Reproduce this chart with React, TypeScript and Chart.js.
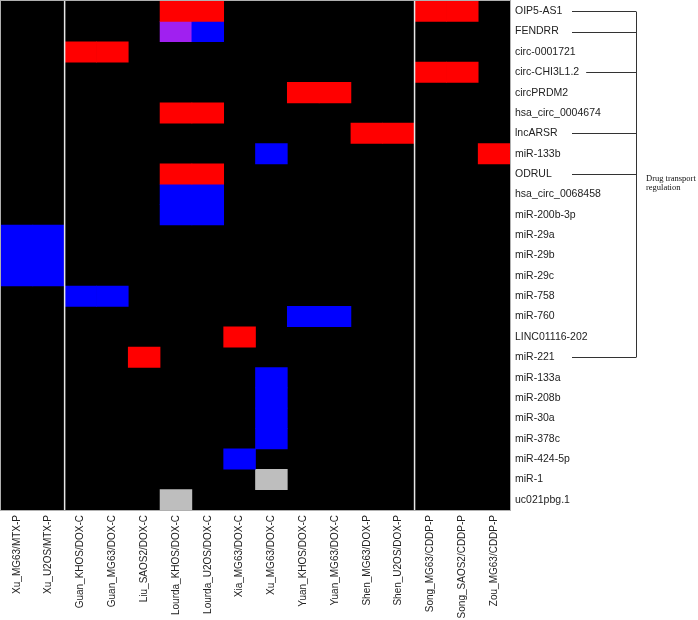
import React, { useEffect, useRef } from "react";
import { Chart, registerables } from "chart.js";

Chart.register(...registerables);

// Rows (transcripts), top to bottom
const rowLabels = [
  "OIP5-AS1", "FENDRR", "circ-0001721", "circ-CHI3L1.2", "circPRDM2",
  "hsa_circ_0004674", "lncARSR", "miR-133b", "ODRUL", "hsa_circ_0068458",
  "miR-200b-3p", "miR-29a", "miR-29b", "miR-29c", "miR-758", "miR-760",
  "LINC01116-202", "miR-221", "miR-133a", "miR-208b", "miR-30a", "miR-378c",
  "miR-424-5p", "miR-1", "uc021pbg.1",
];

// Columns (study_cell/drug), left to right
const colLabels = [
  "Xu_MG63/MTX-P", "Xu_U2OS/MTX-P", "Guan_KHOS/DOX-C", "Guan_MG63/DOX-C",
  "Liu_SAOS2/DOX-C", "Lourda_KHOS/DOX-C", "Lourda_U2OS/DOX-C", "Xia_MG63/DOX-C",
  "Xu_MG63/DOX-C", "Yuan_KHOS/DOX-C", "Yuan_MG63/DOX-C", "Shen_MG63/DOX-P",
  "Shen_U2OS/DOX-P", "Song_MG63/CDDP-P", "Song_SAOS2/CDDP-P", "Zou_MG63/CDDP-P",
];

// Cell states: 0 none, 1 up (red), 2 down (blue), 3 both (purple), 4 other (gray)
const cellStates: number[][] = [
  [0, 0, 0, 0, 0, 1, 1, 0, 0, 0, 0, 0, 0, 1, 1, 0],
  [0, 0, 0, 0, 0, 3, 2, 0, 0, 0, 0, 0, 0, 0, 0, 0],
  [0, 0, 1, 1, 0, 0, 0, 0, 0, 0, 0, 0, 0, 0, 0, 0],
  [0, 0, 0, 0, 0, 0, 0, 0, 0, 0, 0, 0, 0, 1, 1, 0],
  [0, 0, 0, 0, 0, 0, 0, 0, 0, 1, 1, 0, 0, 0, 0, 0],
  [0, 0, 0, 0, 0, 1, 1, 0, 0, 0, 0, 0, 0, 0, 0, 0],
  [0, 0, 0, 0, 0, 0, 0, 0, 0, 0, 0, 1, 1, 0, 0, 0],
  [0, 0, 0, 0, 0, 0, 0, 0, 2, 0, 0, 0, 0, 0, 0, 1],
  [0, 0, 0, 0, 0, 1, 1, 0, 0, 0, 0, 0, 0, 0, 0, 0],
  [0, 0, 0, 0, 0, 2, 2, 0, 0, 0, 0, 0, 0, 0, 0, 0],
  [0, 0, 0, 0, 0, 2, 2, 0, 0, 0, 0, 0, 0, 0, 0, 0],
  [2, 2, 0, 0, 0, 0, 0, 0, 0, 0, 0, 0, 0, 0, 0, 0],
  [2, 2, 0, 0, 0, 0, 0, 0, 0, 0, 0, 0, 0, 0, 0, 0],
  [2, 2, 0, 0, 0, 0, 0, 0, 0, 0, 0, 0, 0, 0, 0, 0],
  [0, 0, 2, 2, 0, 0, 0, 0, 0, 0, 0, 0, 0, 0, 0, 0],
  [0, 0, 0, 0, 0, 0, 0, 0, 0, 2, 2, 0, 0, 0, 0, 0],
  [0, 0, 0, 0, 0, 0, 0, 1, 0, 0, 0, 0, 0, 0, 0, 0],
  [0, 0, 0, 0, 1, 0, 0, 0, 0, 0, 0, 0, 0, 0, 0, 0],
  [0, 0, 0, 0, 0, 0, 0, 0, 2, 0, 0, 0, 0, 0, 0, 0],
  [0, 0, 0, 0, 0, 0, 0, 0, 2, 0, 0, 0, 0, 0, 0, 0],
  [0, 0, 0, 0, 0, 0, 0, 0, 2, 0, 0, 0, 0, 0, 0, 0],
  [0, 0, 0, 0, 0, 0, 0, 0, 2, 0, 0, 0, 0, 0, 0, 0],
  [0, 0, 0, 0, 0, 0, 0, 2, 0, 0, 0, 0, 0, 0, 0, 0],
  [0, 0, 0, 0, 0, 0, 0, 0, 4, 0, 0, 0, 0, 0, 0, 0],
  [0, 0, 0, 0, 0, 4, 0, 0, 0, 0, 0, 0, 0, 0, 0, 0],
];

const stateNames = ["", "Up", "Down", "Both", "Other"];
const stateColors = ["#000000", "#FF0000", "#0000FF", "#A020F0", "#BEBEBE"];

// Column indices where a new group begins (white separators)
const groupStarts = [2, 13];

// Rows linked to the "Drug transport regulation" bracket
const bracketRows = ["OIP5-AS1", "FENDRR", "circ-CHI3L1.2", "lncARSR", "ODRUL", "miR-221"];
const bracketText = ["Drug transport", "regulation"];

const FONT_FAMILY = "'Liberation Sans', Arial, sans-serif";
const ROW_FONT_SIZE = 10.5;
const LABEL_FONT = `${ROW_FONT_SIZE}px 'Liberation Sans', Arial, sans-serif`;

export default function App() {
  const canvasRef = useRef<HTMLCanvasElement | null>(null);

  useEffect(() => {
    const canvas = canvasRef.current;
    if (!canvas) return;

    const datasets = [1, 2, 3, 4].map((state) => {
      const data: { x: string; y: [number, number] }[] = [];
      cellStates.forEach((row, r) =>
        row.forEach((v, c) => {
          if (v === state) data.push({ x: colLabels[c], y: [r, r + 1] });
        })
      );
      return {
        label: stateNames[state],
        data,
        backgroundColor: stateColors[state],
        borderWidth: 0,
        barPercentage: 1,
        categoryPercentage: 1,
        grouped: false,
      };
    });

    const backgroundPlugin = {
      id: "heatBg",
      beforeDatasetsDraw(chart: any) {
        const { ctx, chartArea } = chart;
        ctx.save();
        ctx.fillStyle = "#000000";
        ctx.fillRect(chartArea.left, chartArea.top, chartArea.right - chartArea.left, chartArea.bottom - chartArea.top);
        ctx.restore();
      },
      afterDatasetsDraw(chart: any) {
        const { ctx, chartArea } = chart;
        const xs = chart.scales.x;
        ctx.save();
        ctx.strokeStyle = "#e6e6e6";
        ctx.lineWidth = 1.5;
        groupStarts.forEach((i) => {
          const px = (xs.getPixelForValue(i - 1) + xs.getPixelForValue(i)) / 2;
          ctx.beginPath();
          ctx.moveTo(px, chartArea.top);
          ctx.lineTo(px, chartArea.bottom);
          ctx.stroke();
        });
        ctx.strokeStyle = "#b0b0b0";
        ctx.lineWidth = 1;
        ctx.strokeRect(chartArea.left - 0.5, chartArea.top - 0.5, chartArea.right - chartArea.left + 1, chartArea.bottom - chartArea.top + 1);
        ctx.restore();
      },
    };

    const bracketPlugin = {
      id: "bracket",
      afterDraw(chart: any) {
        const { ctx, chartArea } = chart;
        const ys = chart.scales.y;
        const labelX = chartArea.right + 5;
        const baseStart = chartArea.right + 62;
        const vertX = chartArea.right + 126;
        ctx.save();
        ctx.font = LABEL_FONT;
        ctx.strokeStyle = "#333333";
        ctx.lineWidth = 1;
        const yPix: number[] = [];
        bracketRows.forEach((name) => {
          const r = rowLabels.indexOf(name);
          const y = Math.round(ys.getPixelForValue(r + 0.5)) + 0.5;
          yPix.push(y);
          const w = ctx.measureText(name).width;
          const start = Math.max(baseStart, labelX + w + 7);
          ctx.beginPath();
          ctx.moveTo(start, y);
          ctx.lineTo(vertX, y);
          ctx.stroke();
        });
        const top = Math.min(...yPix);
        const bottom = Math.max(...yPix);
        ctx.beginPath();
        ctx.moveTo(Math.round(vertX) + 0.5, top);
        ctx.lineTo(Math.round(vertX) + 0.5, bottom);
        ctx.stroke();
        const mid = ys.getPixelForValue(9);
        ctx.font = "8.5px 'Liberation Serif', 'Times New Roman', serif";
        ctx.fillStyle = "#111111";
        ctx.textBaseline = "middle";
        ctx.textAlign = "left";
        bracketText.forEach((t, i) => {
          ctx.fillText(t, vertX + 10, mid - 5 + i * 9);
        });
        ctx.restore();
      },
    };

    const chart = new Chart(canvas, {
      type: "bar",
      data: { labels: colLabels, datasets: datasets as any },
      options: {
        animation: false,
        responsive: false,
        maintainAspectRatio: false,
        layout: { padding: { left: 1, top: 1, right: 0, bottom: 0 } },
        plugins: {
          legend: { display: false },
          tooltip: { enabled: false },
        },
        scales: {
          x: {
            type: "category",
            offset: true,
            grid: { display: false, drawTicks: false },
            border: { display: false },
            ticks: {
              autoSkip: false,
              maxRotation: 90,
              minRotation: 90,
              padding: 5,
              color: "#222222",
              font: { family: FONT_FAMILY, size: 10 },
            },
            afterFit: (scale: any) => {
              scale.height = 110;
              scale.paddingLeft = 0;
              scale.paddingRight = 0;
            },
          },
          y: {
            type: "linear",
            position: "right",
            min: 0,
            max: rowLabels.length,
            reverse: true,
            grid: { display: false, drawTicks: false },
            border: { display: false },
            afterBuildTicks: (scale: any) => {
              scale.ticks = rowLabels.map((_, i) => ({ value: i + 0.5 }));
            },
            ticks: {
              autoSkip: false,
              padding: 5,
              color: "#222222",
              font: { family: FONT_FAMILY, size: ROW_FONT_SIZE },
              callback: (_v: any, i: number) => rowLabels[i],
            },
            afterFit: (scale: any) => {
              scale.width = 188;
              scale.paddingTop = 0;
              scale.paddingBottom = 0;
            },
          },
        },
      },
      plugins: [backgroundPlugin, bracketPlugin],
    });

    return () => chart.destroy();
  }, []);

  return (
    <div style={{ position: "fixed", left: 0, top: 0, width: 698, height: 620, background: "#ffffff" }}>
      <canvas ref={canvasRef} width={698} height={620} style={{ display: "block", width: 698, height: 620 }} />
    </div>
  );
}
